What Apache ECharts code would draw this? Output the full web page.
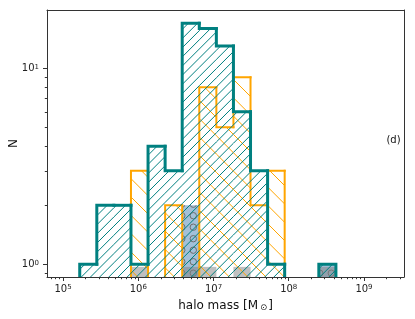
<!DOCTYPE html>
<html><head><meta charset="utf-8">
<script src="https://cdn.jsdelivr.net/npm/echarts@6/dist/echarts.min.js"></script>
<style>html,body{margin:0;padding:0;background:#fff}#c{width:415px;height:319px}</style>
</head><body><div id="c"></div>
<script>
// ---- data (x in log10 of halo mass [Msun]) ----
const binEdgesLog = [5.222, 5.449, 5.676, 5.903, 6.130, 6.357, 6.584, 6.811, 7.038, 7.265, 7.492, 7.719, 7.946, 8.173, 8.400, 8.627];
const tealCounts   = [1, 2, 2, 1, 4, 3, 17, 16, 13, 6, 3, 1, 0, 0, 1];
const orangeCounts = [0, 0, 0, 3, 0, 2, 0, 8, 5, 9, 2, 3, 0, 0, 0];
const grayCounts   = [0, 0, 0, 0.97, 0, 0, 0.97, 0.97, 0, 0.97, 0, 0, 0, 0, 0.97];
const blueCounts   = [0, 0, 0, 0, 0, 0, 2, 0, 0, 0, 0, 0, 0, 0, 1];
const xTickExponents = [5, 6, 7, 8, 9];
const yTickExponents = [0, 1];
const panelLabel = '(d)';
const xTitle = 'halo mass [M{o|⊙}]';
const yTitle = 'N';

const FONT = 'DejaVu Sans';
const X_MIN = 4.787, X_MAX = 9.532, Y_MIN = -0.065, Y_MAX = 1.298;
const TEAL = '#008080', ORANGE = '#FFA500';

function minorTicks(lo, hi, nLo, nHi) {
  const out = [];
  for (let n = nLo; n <= nHi; n++) for (let k = 2; k <= 9; k++) {
    const v = n + Math.log10(k);
    if (v > lo && v < hi) out.push(v);
  }
  return out;
}
const xMinor = minorTicks(X_MIN, X_MAX, 4, 9);
const yMinor = minorTicks(Y_MIN, Y_MAX, -1, 1);

function hatchLines(x0, x1, yt, yb, s, ph, dir) {
  const segs = [];
  if (dir === '/') { // x + y = c
    const cMin = x0 + yt, cMax = x1 + yb;
    for (let k = Math.ceil((cMin - ph) / s); k * s + ph <= cMax; k++) {
      const c = k * s + ph;
      const xa = Math.max(x0, c - yb), xb = Math.min(x1, c - yt);
      if (xb > xa) segs.push([xa, c - xa, xb, c - xb]);
    }
  } else { // x - y = c
    const cMin = x0 - yb, cMax = x1 - yt;
    for (let k = Math.ceil((cMin - ph) / s); k * s + ph <= cMax; k++) {
      const c = k * s + ph;
      const xa = Math.max(x0, c + yt), xb = Math.min(x1, c + yb);
      if (xb > xa) segs.push([xa, xa - c, xb, xb - c]);
    }
  }
  return segs;
}

function stepHist(counts, color, lw, dir, spacing, phase, z) {
  const data = counts.map((c, i) => [binEdgesLog[i], binEdgesLog[i + 1], c,
    i > 0 ? counts[i - 1] : 0, i === counts.length - 1 ? 1 : 0]);
  return {
    type: 'custom', coordinateSystem: 'cartesian2d', z: z, clip: true, silent: true,
    data: data,
    renderItem: function (params, api) {
      const l = api.value(0), r = api.value(1), c = api.value(2), p = api.value(3), last = api.value(4);
      const base = api.coord([l, Y_MIN]);
      const x0 = base[0], x1 = api.coord([r, Y_MIN])[0];
      const yGrid = base[1], yOff = yGrid + 8;
      const yOf = v => v > 0 ? api.coord([l, Math.log10(v)])[1] : yOff;
      const children = [];
      if (c > 0) {
        const yt = yOf(c);
        hatchLines(x0, x1, yt, yGrid, spacing, phase, dir).forEach(sg => {
          children.push({ type: 'line', shape: { x1: sg[0], y1: sg[1], x2: sg[2], y2: sg[3] },
            style: { stroke: color, lineWidth: 1 } });
        });
      }
      if (c > 0 || p > 0) {
        const pts = [[x0, yOf(p)], [x0, yOf(c)], [x1, yOf(c)]];
        if (last) pts.push([x1, yOff]);
        children.push({ type: 'polyline', shape: { points: pts },
          style: { stroke: color, lineWidth: lw, fill: null, lineCap: 'square', lineJoin: 'miter' } });
      }
      return { type: 'group', children: children };
    }
  };
}

function filledHist(counts, fill, circles, z) {
  const data = counts.map((c, i) => [binEdgesLog[i], binEdgesLog[i + 1], c]);
  return {
    type: 'custom', coordinateSystem: 'cartesian2d', z: z, clip: true, silent: true,
    data: data,
    renderItem: function (params, api) {
      const l = api.value(0), r = api.value(1), c = api.value(2);
      if (!(c > 0)) return null;
      const b = api.coord([l, Y_MIN]);
      const x0 = b[0], x1 = api.coord([r, Y_MIN])[0], yb = b[1];
      const yt = api.coord([l, Math.log10(c)])[1];
      const children = [{ type: 'rect', shape: { x: x0, y: yt, width: x1 - x0, height: yb - yt },
        style: { fill: fill, stroke: null } }];
      if (circles) {
        const s = 11.5, px = 193.3, py = 215.7, rad = 3.2;
        const circ = [];
        for (let cx = px + Math.floor((x0 - 5 - px) / s) * s; cx <= x1 + 5; cx += s)
          for (let cy = py + Math.floor((yt - 5 - py) / s) * s; cy <= yb + 5; cy += s)
            circ.push({ type: 'circle', shape: { cx: cx, cy: cy, r: rad },
              style: { fill: null, stroke: '#6e6e6e', lineWidth: 1 } });
        children.push({ type: 'group', children: circ,
          clipPath: { type: 'rect', shape: { x: x0, y: yt, width: x1 - x0, height: yb - yt } } });
      }
      return { type: 'group', children: children };
    }
  };
}

const supRich = {
  b: { fontSize: 10, fontFamily: FONT, color: '#222' },
  s: { fontSize: 7, fontFamily: FONT, color: '#222', verticalAlign: 'top' }
};
const fmt = v => '{b|10}{s|' + Math.round(v) + '}';
const lineStyle = { color: '#333', width: 1 };

const option = {
  animation: false,
  backgroundColor: '#fff',
  grid: { left: 47, right: 11, top: 10, bottom: 42, containLabel: false, outerBoundsMode: 'none' },
  xAxis: [
    { type: 'value', min: X_MIN, max: X_MAX, position: 'bottom', z: 10,
      axisLine: { show: true, onZero: false, lineStyle: lineStyle },
      axisTick: { show: true, customValues: xTickExponents, length: 4, lineStyle: lineStyle },
      axisLabel: { show: true, customValues: xTickExponents, formatter: fmt, rich: supRich, margin: 7 },
      splitLine: { show: false },
      name: xTitle, nameLocation: 'middle', nameGap: 23, nameMoveOverlap: false,
      nameTextStyle: { fontSize: 12, fontFamily: FONT, color: '#111',
        rich: { o: { fontSize: 8.5, fontFamily: FONT, color: '#111', verticalAlign: 'bottom', padding: [0, 1, 0, 2] } } } },
    { type: 'value', min: X_MIN, max: X_MAX, position: 'bottom', z: 10,
      axisLine: { show: false, onZero: false },
      axisTick: { show: true, customValues: xMinor, length: 2.2, lineStyle: lineStyle },
      axisLabel: { show: false }, splitLine: { show: false } },
    { type: 'value', min: X_MIN, max: X_MAX, position: 'top', z: 10,
      axisLine: { show: true, onZero: false, lineStyle: lineStyle },
      axisTick: { show: false }, axisLabel: { show: false }, splitLine: { show: false } }
  ],
  yAxis: [
    { type: 'value', min: Y_MIN, max: Y_MAX, position: 'left', z: 10,
      axisLine: { show: true, onZero: false, lineStyle: lineStyle },
      axisTick: { show: true, customValues: yTickExponents, length: 4, lineStyle: lineStyle },
      axisLabel: { show: true, customValues: yTickExponents, formatter: fmt, rich: supRich, margin: 8 },
      splitLine: { show: false },
      name: yTitle, nameLocation: 'middle', nameGap: 27, nameMoveOverlap: false,
      nameTextStyle: { fontSize: 12, fontFamily: FONT, color: '#111' } },
    { type: 'value', min: Y_MIN, max: Y_MAX, position: 'left', z: 10,
      axisLine: { show: false, onZero: false },
      axisTick: { show: true, customValues: yMinor, length: 2.2, lineStyle: lineStyle },
      axisLabel: { show: false }, splitLine: { show: false } },
    { type: 'value', min: Y_MIN, max: Y_MAX, position: 'right', z: 10,
      axisLine: { show: true, onZero: false, lineStyle: lineStyle },
      axisTick: { show: false }, axisLabel: { show: false }, splitLine: { show: false } }
  ],
  graphic: [
    { type: 'text', x: 393.5, y: 140, z: 20,
      style: { text: panelLabel, fontSize: 10, fontFamily: FONT, fill: '#111', textAlign: 'center', textVerticalAlign: 'middle' } }
  ],
  series: [
    filledHist(blueCounts, 'rgba(70,130,180,0.5)', true, 2),
    filledHist(grayCounts, 'rgba(128,128,128,0.5)', false, 3),
    stepHist(orangeCounts, ORANGE, 2, '\\', 18.33, 44, 4),
    stepHist(tealCounts, TEAL, 3, '/', 9.17, 340, 5)
  ]
};
const chart = echarts.init(document.getElementById('c'), null, { renderer: 'canvas' });
chart.setOption(option);
</script>
</body></html>
